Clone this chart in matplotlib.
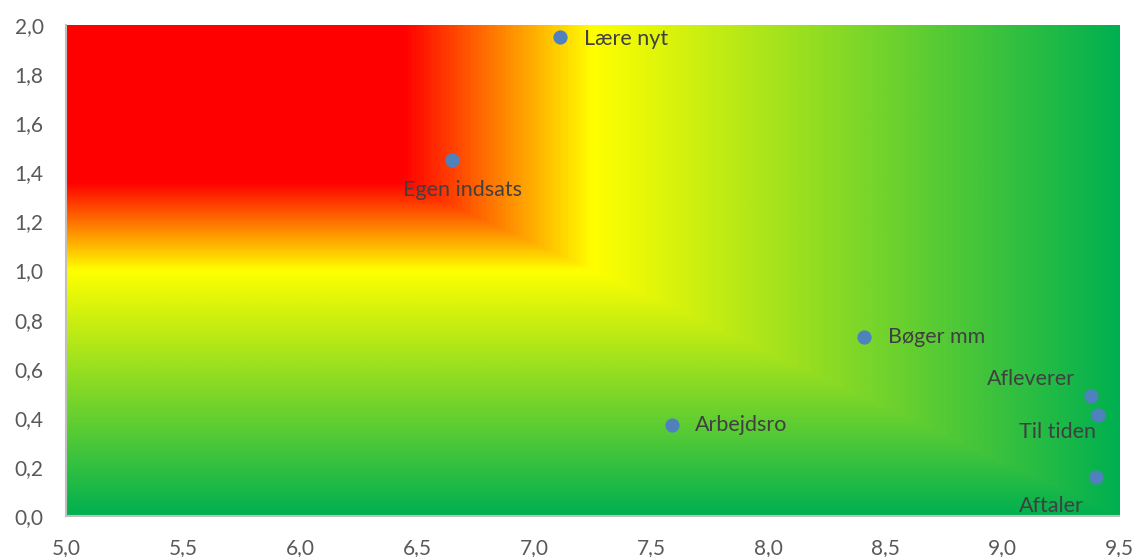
import numpy as np
import matplotlib
matplotlib.use("Agg")
import matplotlib.pyplot as plt
from matplotlib.colors import LinearSegmentedColormap
from matplotlib.ticker import FuncFormatter, MultipleLocator

plt.rcParams["font.family"] = ["Lato", "DejaVu Sans"]

# data
labels = ["Lære nyt", "Egen indsats", "Bøger mm", "Arbejdsro",
          "Afleverer", "Til tiden", "Aftaler"]
x_vals = [7.11, 6.65, 8.41, 7.59, 9.38, 9.41, 9.40]
y_vals = [1.95, 1.45, 0.73, 0.37, 0.49, 0.41, 0.16]
# label offsets in pixels (dx, dy) and alignment
offsets = [(24, -2, "left"), (10, -30, "center"), (24, 0, "left"),
           (23, 0, "left"), (-60, 17, "center"), (-41, -17, "center"),
           (-44, -29, "center")]

X_MIN, X_MAX, Y_MIN, Y_MAX = 5.0, 9.5, 0.0, 2.0

fig = plt.figure(figsize=(11.35, 5.57), dpi=100)
ax = fig.add_axes([0.058, 0.0736, 0.928, 0.8814])

# background: rectangular gradient from top-left corner
cmap = LinearSegmentedColormap.from_list(
    "ryg", [(0.0, "#FF0000"), (0.32, "#FF0000"), (0.5, "#FFFF00"),
            (1.0, "#00B050")])
nx, ny = 900, 450
u = np.linspace(0, 1, nx)[None, :]
v = np.linspace(0, 1, ny)[:, None]
t = np.maximum(u, v)
ax.imshow(t, cmap=cmap, vmin=0, vmax=1, origin="upper",
          extent=[X_MIN, X_MAX, Y_MIN, Y_MAX], aspect="auto",
          interpolation="bilinear", zorder=0)

ax.scatter(x_vals, y_vals, s=105, color="#4F81BD", zorder=3, linewidths=0)
for lab, x, y, (dx, dy, ha) in zip(labels, x_vals, y_vals, offsets):
    ax.annotate(lab, (x, y), xytext=(dx, dy), textcoords="offset pixels",
                ha=ha, va="center", fontsize=15.5, color="#404040",
                annotation_clip=False, zorder=4)

ax.set_xlim(X_MIN, X_MAX)
ax.set_ylim(Y_MIN, Y_MAX)
ax.xaxis.set_major_locator(MultipleLocator(0.5))
ax.yaxis.set_major_locator(MultipleLocator(0.2))
comma = FuncFormatter(lambda val, pos: f"{val:.1f}".replace(".", ","))
ax.xaxis.set_major_formatter(comma)
ax.yaxis.set_major_formatter(comma)
ax.tick_params(length=0, labelsize=15, colors="#595959")
ax.tick_params(axis="y", pad=16)
ax.tick_params(axis="x", pad=16)

for side in ["top", "right"]:
    ax.spines[side].set_visible(False)
for side in ["left", "bottom"]:
    ax.spines[side].set_color("#BFBFBF")
    ax.spines[side].set_linewidth(1.5)
    ax.spines[side].set_zorder(5)

fig.savefig("out.png", dpi=100)
